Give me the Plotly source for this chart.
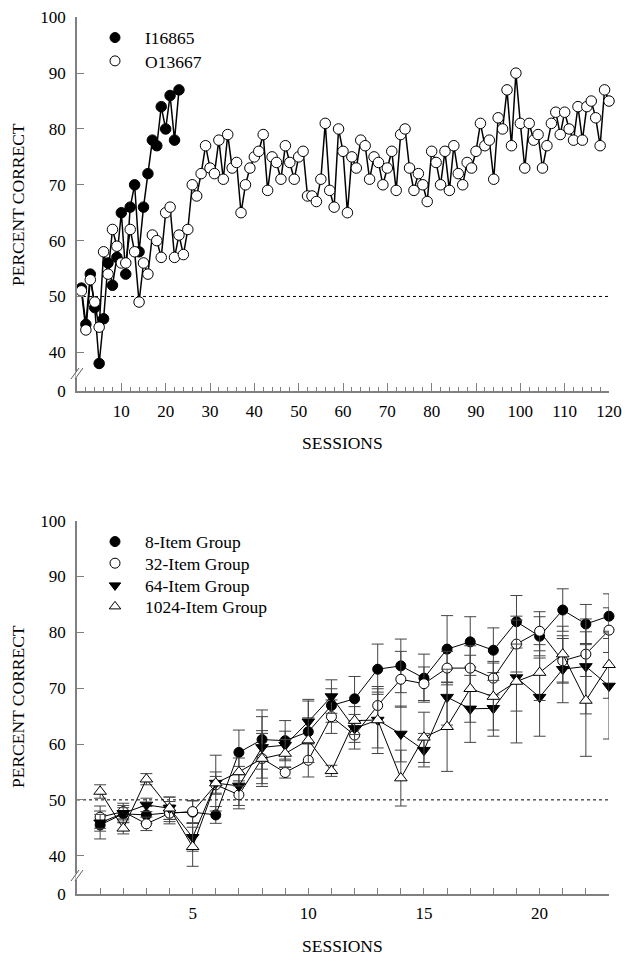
import plotly.graph_objects as go

# ---------------- data: top panel ----------------
sessions_i = list(range(1, 24))
i16865 = [51.5, 45, 54, 48, 38, 46, 56, 52, 57, 65, 54, 66, 70, 58, 66, 72, 78, 77, 84, 80, 86, 78, 87]

sessions_o = list(range(1, 121))
o13667 = [51, 44, 53, 49, 44.5, 58, 54, 62, 59, 56, 56, 62, 58, 49, 56, 54, 61, 60, 57, 65,
          66, 57, 61, 57.5, 62, 70, 68, 72, 77, 73, 72, 78, 71, 79, 73, 74, 65, 70, 73, 75,
          76, 79, 69, 75, 74, 71, 77, 74, 71, 75, 76, 68, 68, 67, 71, 81, 69, 66, 80, 76,
          65, 75, 73, 78, 77, 71, 75, 74, 70, 73, 76, 69, 79, 80, 73, 69, 72, 70, 67, 76,
          74, 70, 76, 69, 77, 72, 70, 74, 73, 76, 81, 77, 78, 71, 82, 80, 87, 77, 90, 81,
          73, 81, 78, 79, 73, 77, 81, 83, 79, 83, 80, 78, 84, 78, 84, 85, 82, 77, 87, 85]

# ---------------- data: bottom panel ----------------
sessions_g = list(range(1, 24))
g8 = [45.5, 47.5, 47.3, 47.7, 47.8, 47.3, 58.5, 60.8, 60.6, 62.2, 66.9, 68.1, 73.4, 74.0,
      71.8, 77.0, 78.3, 76.8, 81.9, 79.3, 84.0, 81.5, 82.9]
g8_err = [2.5, 1.5, 1.5, 2, 2, 1.5, 4, 5.3, 3.6, 5.5, 3, 4, 4.5, 4.8, 4.3, 6, 4.5, 4, 4.7, 3.5, 3.8, 3.5, 4]
g32 = [46.9, 47.9, 45.7, 47.6, 47.9, 52.7, 50.9, 57.4, 54.9, 57.1, 64.9, 61.6, 66.9, 71.6,
       70.8, 73.6, 73.6, 71.8, 77.9, 80.2, 74.9, 76.1, 80.4]
g32_err = [2, 1.5, 1.2, 1.5, 2, 1.5, 2.5, 4.5, 1, 3, 3, 2.5, 3, 5, 3, 3, 4, 3, 5, 3.5, 4, 4, 4]
g64 = [45.9, 47.6, 49.1, 48.5, 43.3, 53.0, 52.5, 59.4, 59.8, 64.0, 68.5, 62.8, 64.3, 61.8,
       58.9, 68.4, 66.3, 66.4, 71.9, 68.4, 73.4, 73.9, 70.4]
g64_err = [1.5, 1, 1.2, 2, 2.5, 5, 3.5, 5.5, 2.5, 4, 3, 2.5, 5, 5, 3, 5, 6, 5, 6, 7, 6, 8.5, 9.5]
g1024 = [51.5, 44.9, 53.7, 48.5, 41.6, 53.0, 55.0, 57.4, 58.3, 60.7, 55.2, 64.2, 64.3, 53.9,
         61.2, 63.1, 69.9, 68.5, 71.2, 72.8, 76.1, 67.8, 74.2]
g1024_err = [1.2, 1, 1, 2, 3.5, 2, 2.5, 5, 2.5, 4, 1, 2.5, 6, 5, 4.5, 8, 6, 6, 11, 5, 5, 10, 6]

y_tick_text = ["0", "40", "50", "60", "70", "80", "90", "100"]
y_tick_vals = [33.12, 40, 50, 60, 70, 80, 90, 100]
chance = 50

FONT = "Liberation Serif"
W, H = 634, 964
ML, MR = 77, 25
PW = W - ML - MR


def px(xp):
    return (xp - ML) / PW


def py(yp):
    return 1 - yp / H


fig = go.Figure()

# top panel traces
fig.add_trace(go.Scatter(x=sessions_i, y=i16865, mode="lines+markers", name="I16865",
                         xaxis="x", yaxis="y", showlegend=False, cliponaxis=False,
                         line=dict(color="black", width=1.5),
                         marker=dict(symbol="circle", size=10.5, color="black",
                                     line=dict(color="black", width=1))))
fig.add_trace(go.Scatter(x=sessions_o, y=o13667, mode="lines+markers", name="O13667",
                         xaxis="x", yaxis="y", showlegend=False, cliponaxis=False,
                         line=dict(color="black", width=1.5),
                         marker=dict(symbol="circle", size=10.5, color="white",
                                     line=dict(color="black", width=1))))

# bottom panel traces
groups = [
    ("8-Item Group", g8, g8_err, "circle", "black", 10),
    ("32-Item Group", g32, g32_err, "circle", "white", 10),
    ("64-Item Group", g64, g64_err, "triangle-down", "black", 11),
    ("1024-Item Group", g1024, g1024_err, "triangle-up", "white", 11),
]
for nm, vals, err, sym, fc, sz in groups:
    fig.add_trace(go.Scatter(x=sessions_g, y=vals, mode="lines+markers", name=nm,
                             xaxis="x2", yaxis="y2", showlegend=False, cliponaxis=False,
                             line=dict(color="black", width=1),
                             error_y=dict(type="data", array=err, visible=True,
                                          color="#444444", thickness=1, width=6),
                             marker=dict(symbol=sym, size=sz, color=fc,
                                         line=dict(color="black", width=1))))

# legend entries, one legend per row so each sits at the reference position
legend_rows = [
    ("I16865", "circle", "black", 10, "x", "y", 37.7),
    ("O13667", "circle", "white", 10, "x", "y", 61.0),
    ("8-Item Group", "circle", "black", 10, "x2", "y2", 541.7),
    ("32-Item Group", "circle", "white", 10, "x2", "y2", 563.3),
    ("64-Item Group", "triangle-down", "black", 10, "x2", "y2", 585.5),
    ("1024-Item Group", "triangle-up", "white", 10, "x2", "y2", 606.5),
]
legend_layout = {}
for k, (nm, sym, fc, sz, xa, ya, yc) in enumerate(legend_rows):
    key = "legend" if k == 0 else f"legend{k + 1}"
    fig.add_trace(go.Scatter(x=[None], y=[None], mode="markers", name=nm, xaxis=xa, yaxis=ya,
                             legend=key,
                             marker=dict(symbol=sym, size=sz, color=fc,
                                         line=dict(color="black", width=1))))
    legend_layout[key] = dict(x=px(85), y=py(yc - 18), xanchor="left", yanchor="top",
                              itemwidth=50, bgcolor="rgba(0,0,0,0)",
                              font=dict(family=FONT, size=17.5), tracegroupgap=0)

axis_common = dict(showline=True, linecolor="#808080", linewidth=1.5, showgrid=False,
                   zeroline=False, ticks="inside", tickcolor="#808080", tickwidth=1,
                   tickfont=dict(family=FONT, size=17, color="black"), automargin=False)

top_dom = [py(390.7), py(17.3)]
bot_dom = [py(894), py(520.7)]

fig.update_layout(
    width=W, height=H,
    margin=dict(l=ML, r=MR, t=0, b=0),
    paper_bgcolor="white", plot_bgcolor="white",
    font=dict(family=FONT, color="black"),
    xaxis=dict(axis_common, domain=[0, 1], anchor="y", range=[0, 120],
               tickvals=list(range(10, 130, 10)), ticklen=8, ticklabelstandoff=4,
               minor=dict(dtick=2, tick0=0, ticklen=4, ticks="inside", tickcolor="#808080")),
    yaxis=dict(axis_common, domain=top_dom, anchor="x", range=[33.12, 100],
               tickvals=y_tick_vals, ticktext=y_tick_text, ticklen=7, ticklabelstandoff=6),
    xaxis2=dict(axis_common, domain=[0, 1], anchor="y2", range=[0, 23],
                tickvals=[5, 10, 15, 20], ticklen=6, ticklabelstandoff=3,
                minor=dict(dtick=1, tick0=0, ticklen=6, ticks="inside", tickcolor="#808080")),
    yaxis2=dict(axis_common, domain=bot_dom, anchor="x2", range=[33.14, 100],
                tickvals=[33.14] + y_tick_vals[1:], ticktext=y_tick_text, ticklen=7,
                ticklabelstandoff=6),
    **legend_layout,
)

# chance lines
fig.add_shape(type="line", xref="x", yref="y", x0=0, x1=120, y0=chance, y1=chance,
              line=dict(color="black", width=1, dash="dot"), layer="below")
fig.add_shape(type="line", xref="x2", yref="y2", x0=0, x1=23, y0=chance, y1=chance,
              line=dict(color="black", width=1, dash="dot"), layer="below")

# axis break marks
for yb in (374, 876):
    fig.add_shape(type="line", xref="paper", yref="paper", x0=px(77), x1=px(77),
                  y0=py(yb + 4), y1=py(yb - 3), line=dict(color="white", width=3))
    for dx in (0, 4):
        fig.add_shape(type="line", xref="paper", yref="paper",
                      x0=px(71 + dx), y0=py(yb + 5), x1=px(79 + dx), y1=py(yb - 6),
                      line=dict(color="#606060", width=1))

# axis titles
for yc in (205, 707):
    fig.add_annotation(text="PERCENT CORRECT", xref="paper", yref="paper", x=px(18), y=py(yc),
                       textangle=-90, showarrow=False, font=dict(family=FONT, size=17.5),
                       xanchor="center", yanchor="middle")
for yc in (443, 946):
    fig.add_annotation(text="SESSIONS", xref="paper", yref="paper", x=px(342), y=py(yc),
                       showarrow=False, font=dict(family=FONT, size=17.5),
                       xanchor="center", yanchor="middle")

fig.write_html("out.html", config={"displayModeBar": False},
               post_script="document.body.style.margin='0';")
